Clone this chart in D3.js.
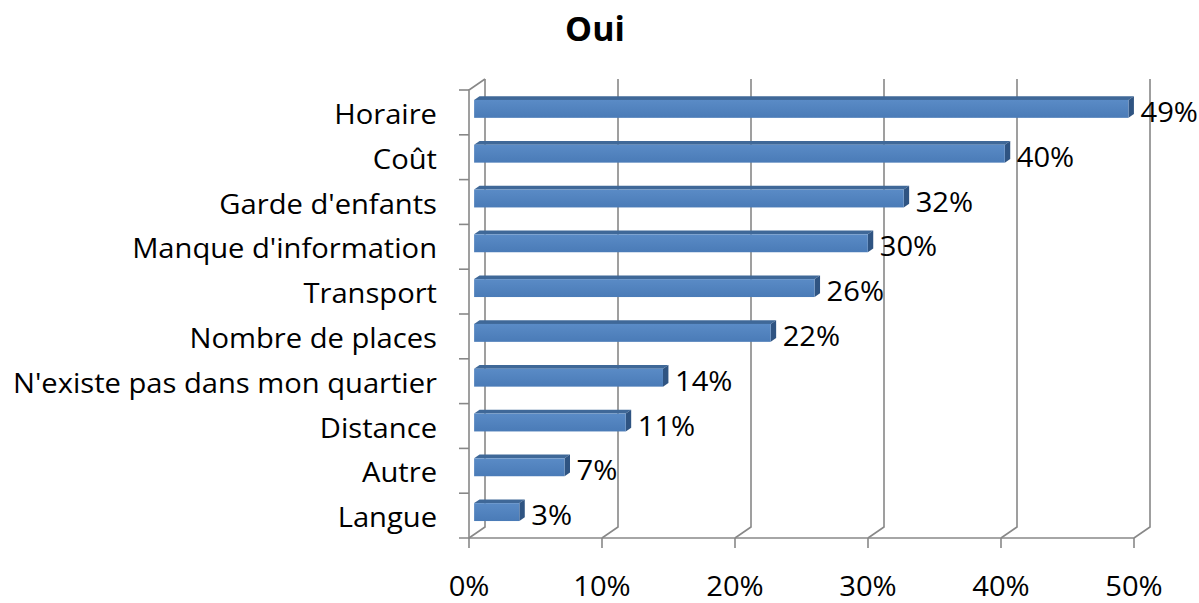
<!DOCTYPE html>
<html><head><meta charset="utf-8">
<script src="https://cdn.jsdelivr.net/npm/d3@7"></script>
<style>
body{margin:0;background:#fff;}
text{font-family:"Open Sans","Noto Sans",sans-serif;fill:#000;}
</style></head>
<body><svg id="c" width="1199" height="603"></svg>
<script>
const categories = ["Horaire","Coût","Garde d'enfants","Manque d'information","Transport","Nombre de places","N'existe pas dans mon quartier","Distance","Autre","Langue"];
const values = [49.2,39.9,32.3,29.6,25.6,22.3,14.2,11.4,6.8,3.4];
const xTicks = [0,10,20,30,40,50];
const title = "Oui";

const svg = d3.select("#c");
const x = d3.scaleLinear().domain([0,50]).range([469,1134]);
const y = d3.scaleBand().domain(categories).range([90,538]).paddingInner(0.6).paddingOuter(0.3);
const yb = d3.scaleBand().domain(categories).range([90,538]);
const DX = 16, DY = -11;
const top0 = 90, bot0 = 538;
const grid = "#888888";
const FS = 26.5, SX = 1.1;

// back wall gridlines + floor diagonals
const g = svg.append("g").attr("stroke", grid).attr("stroke-width", 1.6).attr("fill","none");
xTicks.forEach(t => {
  g.append("path").attr("d", `M${x(t)+DX},${top0+DY} L${x(t)+DX},${bot0+DY} L${x(t)},${bot0}`);
});
g.append("path").attr("d", `M${x(0)+DX},${top0+DY} L${x(0)},${top0} L${x(0)},${bot0}`);
g.append("line").attr("x1", x(0)-10).attr("x2", x(50)).attr("y1", bot0).attr("y2", bot0);
yb.domain().forEach(c=>{
  g.append("line").attr("x1", x(0)-10).attr("x2", x(0)).attr("y1", yb(c)).attr("y2", yb(c));
});
xTicks.forEach(t => {
  g.append("line").attr("x1", x(t)).attr("x2", x(t)).attr("y1", bot0).attr("y2", bot0+10);
});

// bars
const f1 = 0.32, f2 = 0.66;
const defs = svg.append("defs");
const grad = defs.append("linearGradient").attr("id","fg").attr("x1",0).attr("y1",0).attr("x2",0).attr("y2",1);
grad.append("stop").attr("offset","0%").attr("stop-color","#5a8bc6");
grad.append("stop").attr("offset","100%").attr("stop-color","#4a7bb7");

const bars = svg.append("g");
categories.forEach((c,i)=>{
  const v = values[i];
  const x0 = x(0), x1 = x(v);
  const yt = y(c), yb2 = y(c)+y.bandwidth();
  const ox1 = DX*f1, oy1 = DY*f1, ox2 = DX*f2, oy2 = DY*f2;
  bars.append("path").attr("fill","#3f6898")
    .attr("d", `M${x0+ox1},${yt+oy1} L${x1+ox1},${yt+oy1} L${x1+ox2},${yt+oy2} L${x0+ox2},${yt+oy2} Z`);
  bars.append("path").attr("fill","#2f5482")
    .attr("d", `M${x1+ox1},${yt+oy1} L${x1+ox2},${yt+oy2} L${x1+ox2},${yb2+oy2} L${x1+ox1},${yb2+oy1} Z`);
  bars.append("rect").attr("fill","url(#fg)")
    .attr("x", x0+ox1).attr("y", yt+oy1).attr("width", x1-x0).attr("height", y.bandwidth());
  svg.append("text")
    .attr("transform", `translate(${x1+ox1+12},${yb(c)+yb.bandwidth()/2}) scale(${SX},1)`)
    .attr("dy","0.36em").attr("font-size", FS).text(Math.round(v)+"%");
});

// category labels
svg.append("g").selectAll("text").data(categories).join("text")
  .attr("transform", d => `translate(437,${yb(d)+yb.bandwidth()/2+2}) scale(${SX},1)`)
  .attr("dy","0.36em").attr("text-anchor","end").attr("font-size", FS).text(d=>d);

// x tick labels
svg.append("g").selectAll("text").data(xTicks).join("text")
  .attr("transform", d => `translate(${x(d)},596) scale(${SX},1)`)
  .attr("text-anchor","middle").attr("font-size",FS)
  .text(d=>d+"%");

svg.append("text").attr("x", 595).attr("y", 41).attr("text-anchor","middle")
  .attr("font-size", 34).attr("font-weight","bold").text(title);
</script></body></html>
